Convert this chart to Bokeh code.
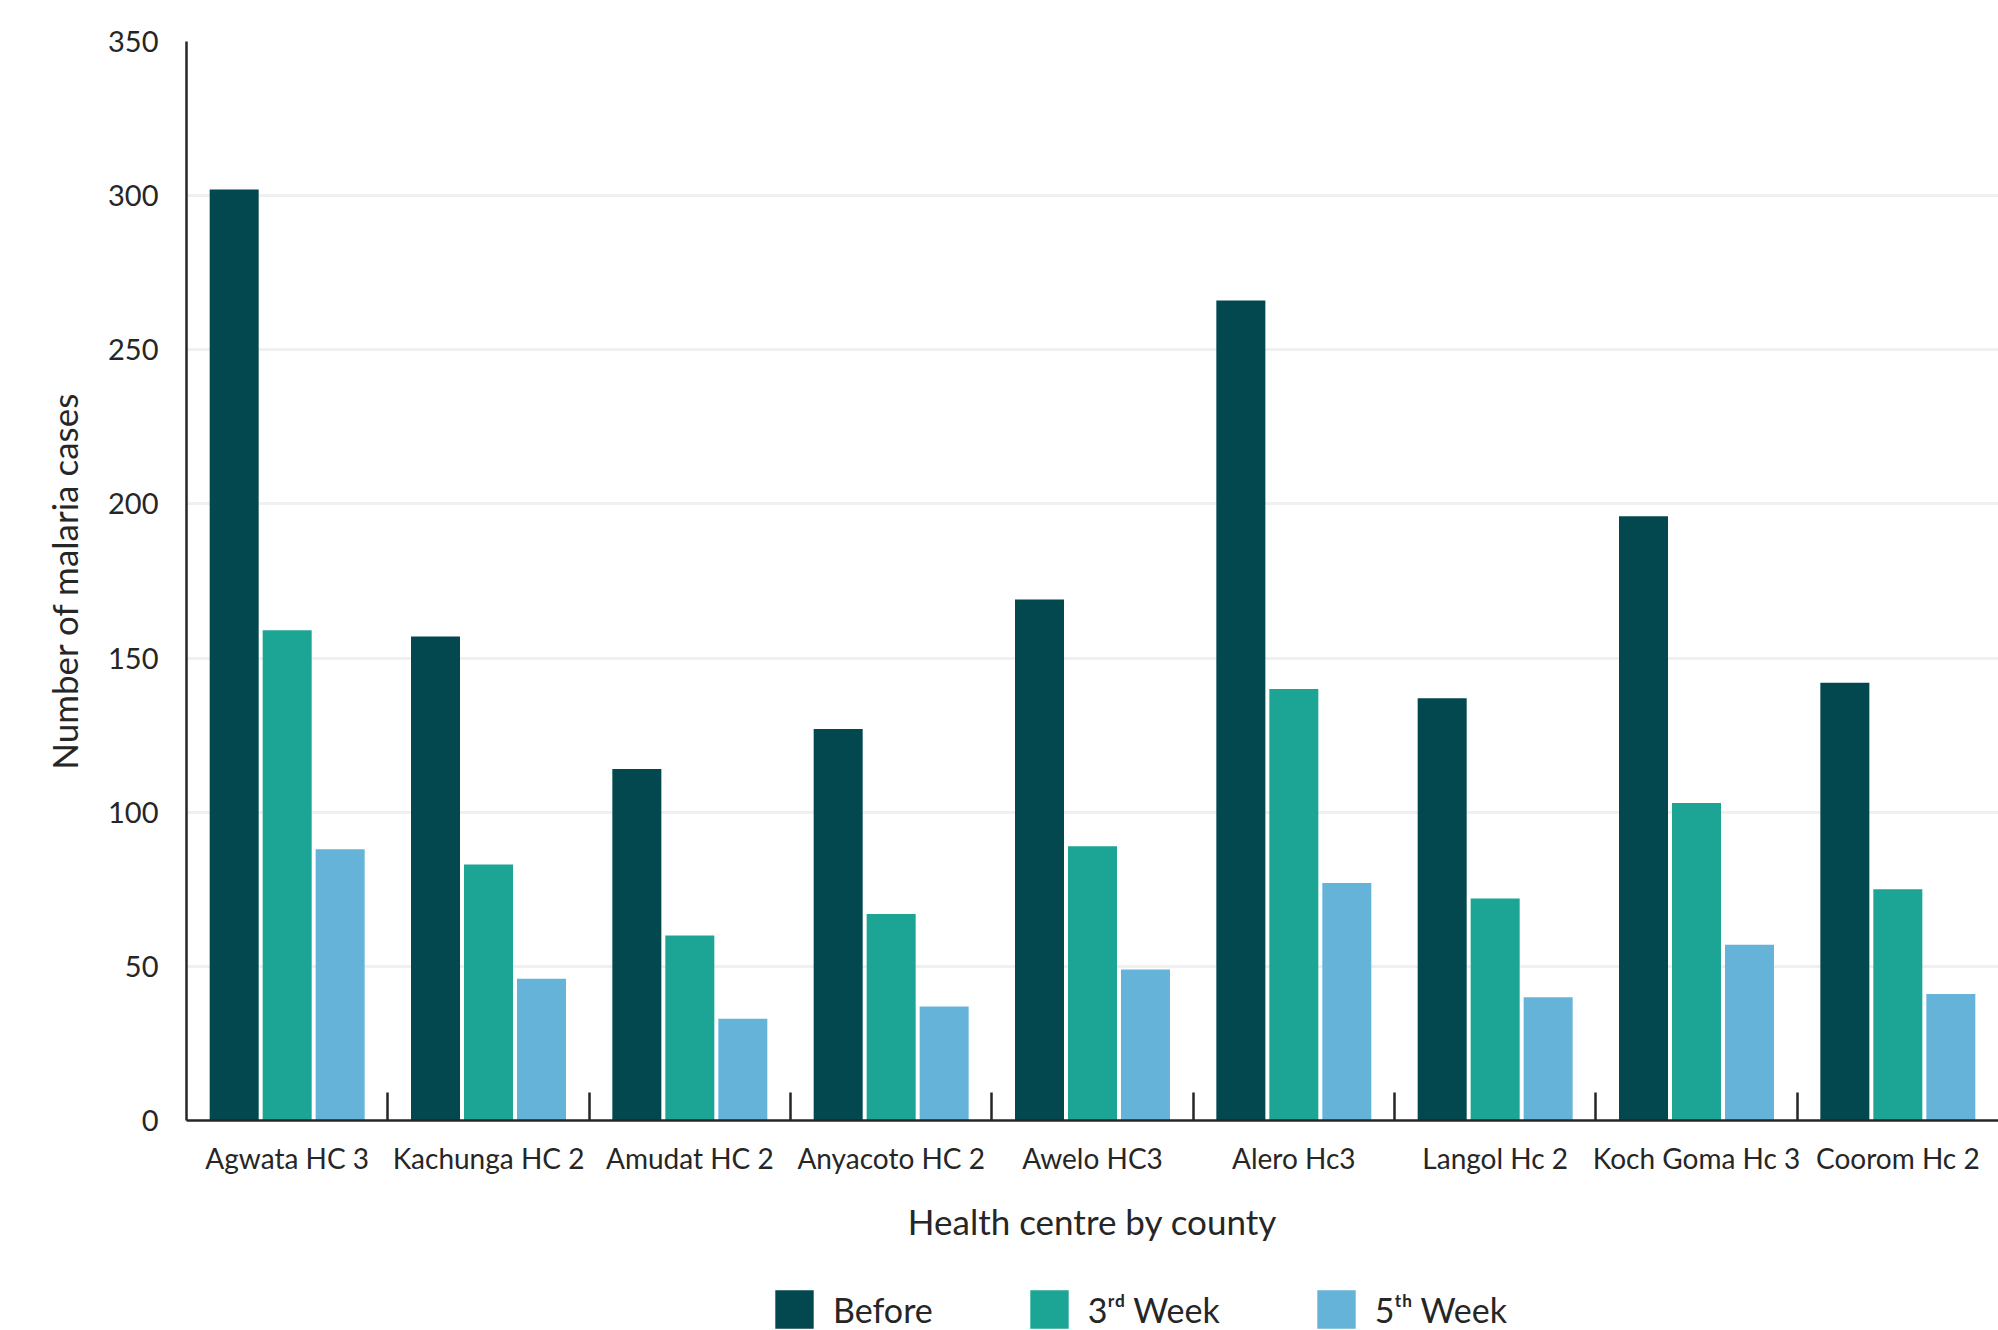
from bokeh.plotting import figure
from bokeh.layouts import column
from bokeh.models import ColumnDataSource, FixedTicker, Legend, LegendItem, Range1d
from bokeh.transform import dodge
from bokeh.embed import file_html
from bokeh.resources import INLINE

categories = ["Agwata HC 3", "Kachunga HC 2", "Amudat HC 2", "Anyacoto HC 2", "Awelo HC3",
              "Alero Hc3", "Langol Hc 2", "Koch Goma Hc 3", "Coorom Hc 2"]
before = [302, 157, 114, 127, 169, 266, 137, 196, 142]
week3 = [159, 83, 60, 67, 89, 140, 72, 103, 75]
week5 = [88, 46, 33, 37, 49, 77, 40, 57, 41]
series_labels = ["Before", "3\u02b3\u1d48 Week", "5\u1d57\u02b0 Week"]
series_fields = ["before", "week3", "week5"]
colors = ["#03474F", "#1CA594", "#66B3DA"]
y_ticks = [0, 50, 100, 150, 200, 250, 300, 350]

FONT = "Lato"
n = len(categories)
centers = [i + 0.5 for i in range(n)]
bounds = [i for i in range(1, n)]

src = ColumnDataSource(dict(xc=centers, before=before, week3=week3, week5=week5))

p = figure(frame_width=1812, frame_height=1079, output_backend="svg", toolbar_location=None,
           x_range=Range1d(0, n), y_range=Range1d(0, 350),
           min_border_left=186, min_border_right=0, min_border_top=41, min_border_bottom=130)
p.outline_line_color = None
p.background_fill_color = "white"
p.border_fill_color = "white"

step = 0.2632
bw = 0.2434
offsets = [-step, 0, step]
for f, c, o in zip(series_fields, colors, offsets):
    p.vbar(x=dodge("xc", o, range=p.x_range), top=f, width=bw, source=src,
           fill_color=c, line_color=None)

# x axis
xa = p.xaxis[0]
xa.ticker = FixedTicker(ticks=centers, minor_ticks=bounds)
xa.major_label_overrides = {c: lab for c, lab in zip(centers, categories)}
xa.major_tick_in = 0
xa.major_tick_out = 0
xa.minor_tick_in = 28
xa.minor_tick_out = 0
xa.minor_tick_line_color = "#262626"
xa.minor_tick_line_width = 2.5
xa.axis_line_color = "#262626"
xa.axis_line_width = 2.5
xa.major_label_text_font = FONT
xa.major_label_text_font_size = "28px"
xa.major_label_text_color = "#262626"
xa.major_label_standoff = 20
xa.axis_label = "Health centre by county"
xa.axis_label_text_font = FONT
xa.axis_label_text_font_style = "normal"
xa.axis_label_text_font_size = "35px"
xa.axis_label_text_color = "#262626"
xa.axis_label_standoff = 22

# y axis
ya = p.yaxis[0]
ya.ticker = FixedTicker(ticks=y_ticks)
ya.major_tick_in = 0
ya.major_tick_out = 0
ya.minor_tick_in = 0
ya.minor_tick_out = 0
ya.axis_line_color = "#262626"
ya.axis_line_width = 2.5
ya.major_label_text_font = FONT
ya.major_label_text_font_size = "29px"
ya.major_label_text_color = "#262626"
ya.major_label_standoff = 28
ya.axis_label = "Number of malaria cases"
ya.axis_label_text_font = FONT
ya.axis_label_text_font_style = "normal"
ya.axis_label_text_font_size = "35px"
ya.axis_label_text_color = "#262626"
ya.axis_label_standoff = 20

p.xgrid.grid_line_color = None
p.ygrid.ticker = FixedTicker(ticks=y_ticks)
p.ygrid.grid_line_color = "#F0F0F0"
p.ygrid.grid_line_width = 3

# legend strip below the chart (its renderers use the same data, kept out of view)
lg = figure(width=1998, height=80, output_backend="svg", toolbar_location=None,
            x_range=Range1d(-3, -2), y_range=Range1d(0, 1),
            min_border_left=0, min_border_right=0, min_border_top=0, min_border_bottom=0)
lg.axis.visible = False
lg.grid.visible = False
lg.outline_line_color = None
lg.border_fill_color = "white"
lg.background_fill_color = "white"
swatches = [lg.vbar(x=dodge("xc", o, range=lg.x_range), top=f, width=bw, source=src,
                    fill_color=c, line_color=None)
            for f, c, o in zip(series_fields, colors, offsets)]
legend = Legend(items=[LegendItem(label=lab, renderers=[r]) for lab, r in zip(series_labels, swatches)],
                orientation="horizontal", location=(584, -3),
                glyph_width=48, glyph_height=48, label_standoff=15, spacing=92,
                label_text_font=FONT, label_text_font_size="34px", label_text_color="#262626",
                border_line_color=None, background_fill_alpha=0, padding=0, margin=0)
lg.add_layout(legend, "center")

layout = column(p, lg, spacing=0)
open("out.html", "w").write(file_html(layout, INLINE))
